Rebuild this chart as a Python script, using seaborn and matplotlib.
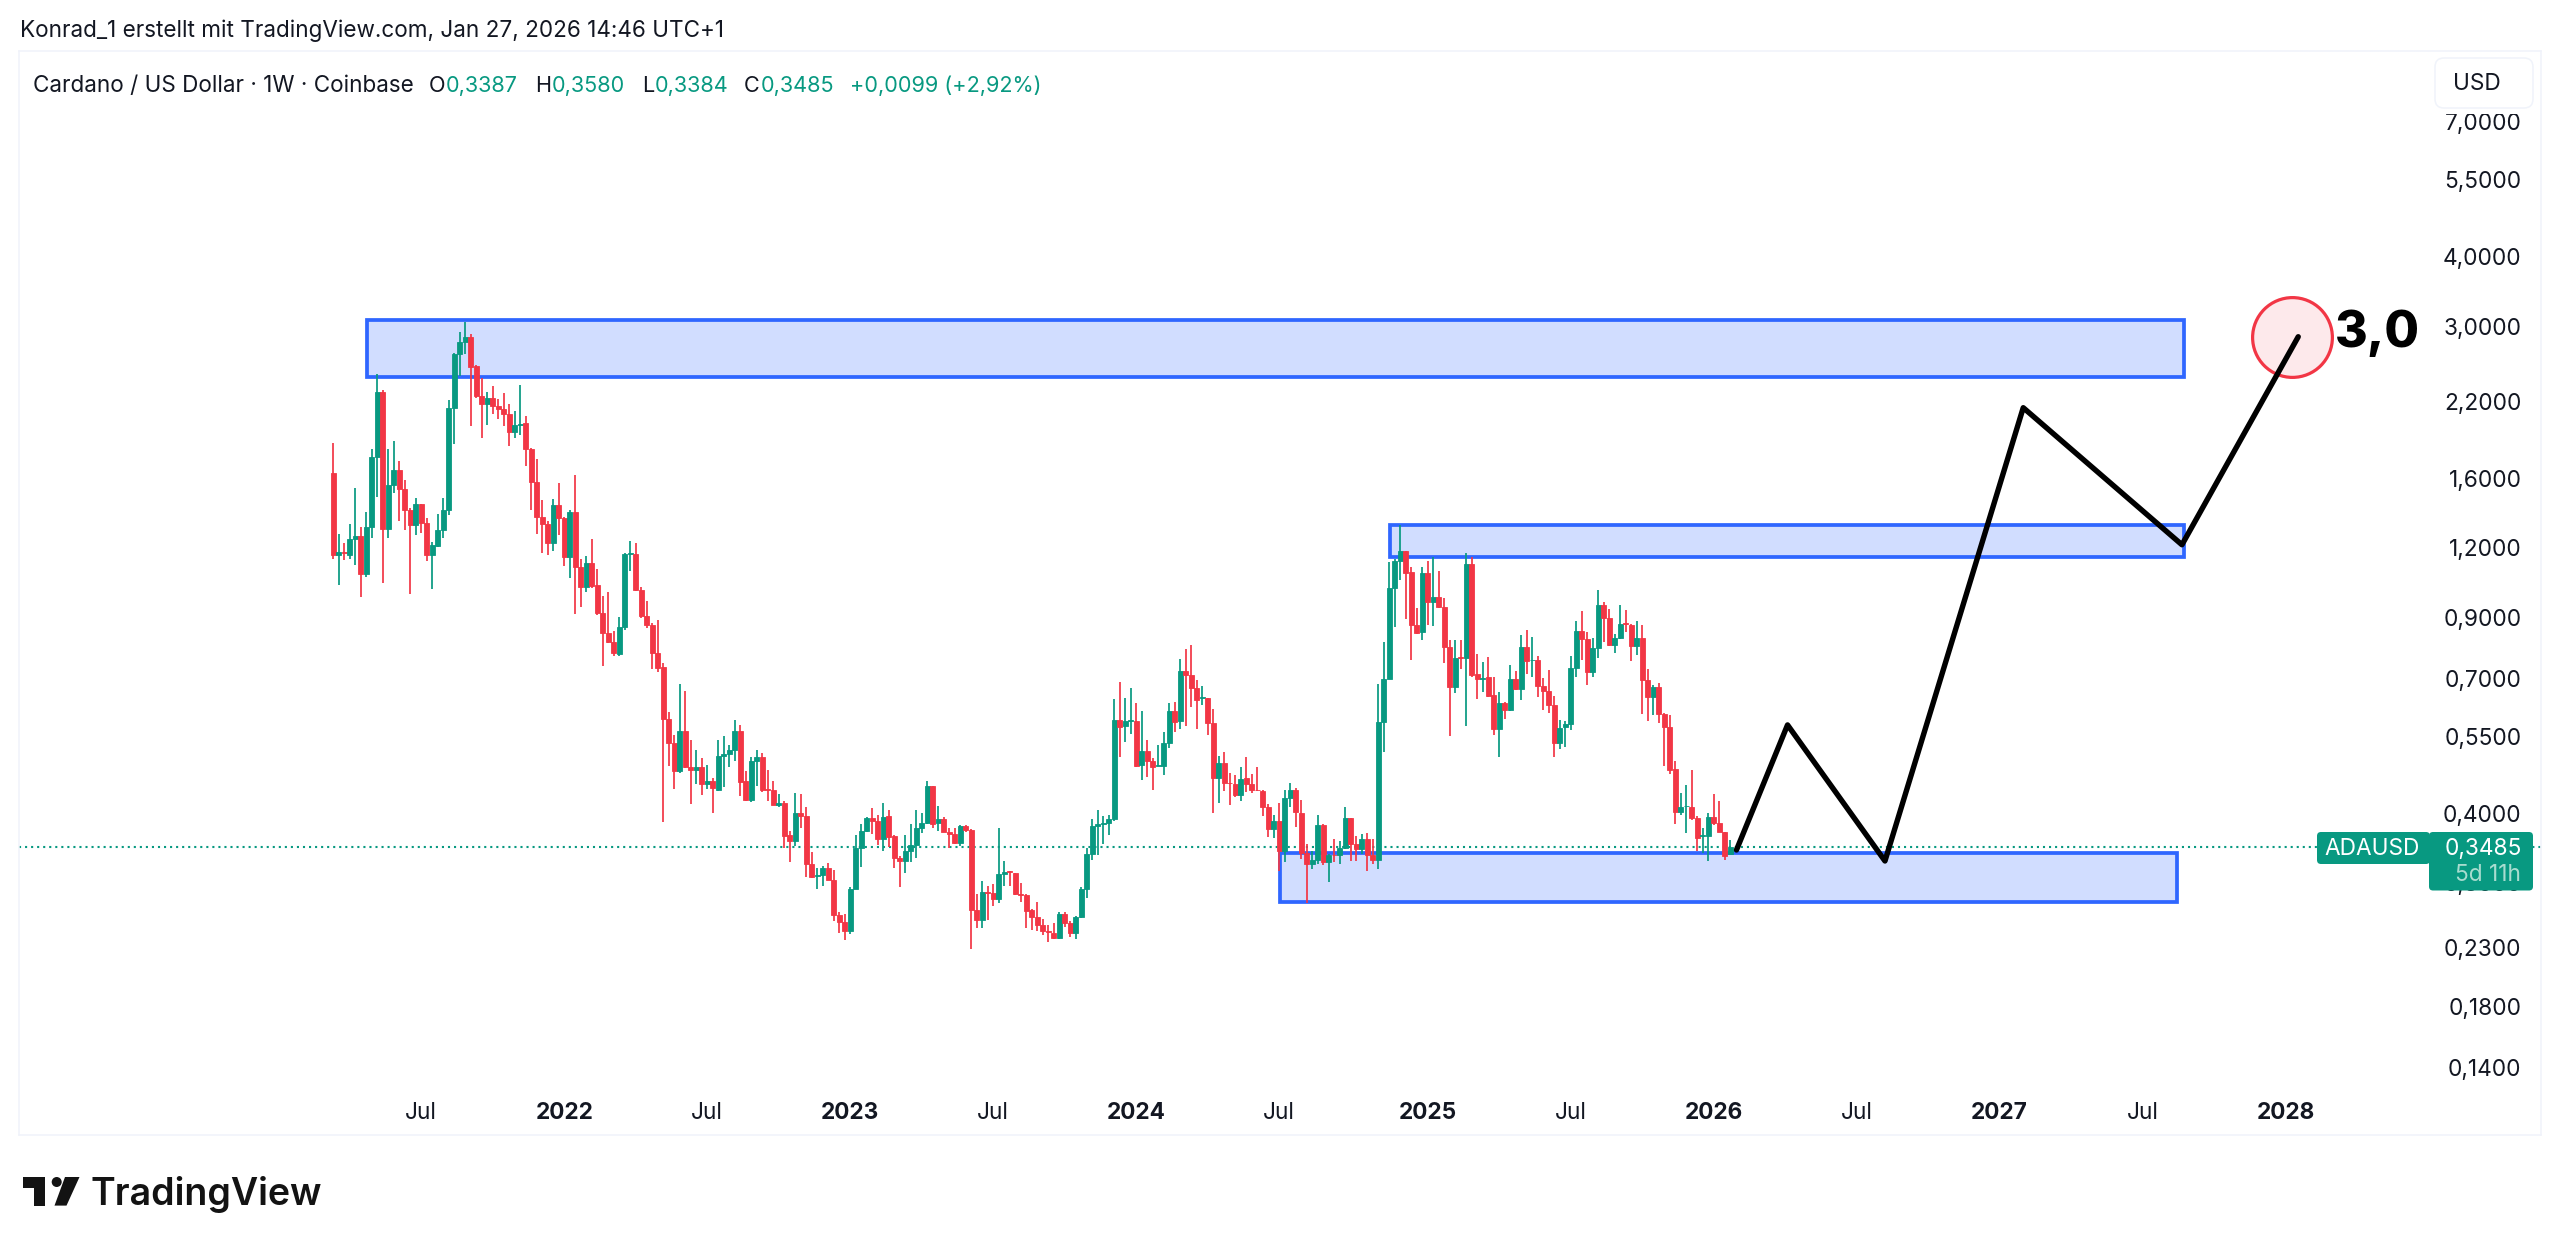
import numpy as np
import pandas as pd
import seaborn as sns
import matplotlib
matplotlib.use("Agg")
import matplotlib.pyplot as plt
import matplotlib.dates as mdates
from matplotlib.patches import Rectangle, FancyBboxPatch, Polygon, Circle
from matplotlib.ticker import NullLocator
from matplotlib.transforms import Affine2D

# weekly ADA/USD candles
first_week = "2021-03-15"
opens = [1.633,1.166,1.177,1.166,1.245,1.258,1.076,1.309,1.745,2.282,
1.299,1.558,1.652,1.533,1.405,1.320,1.440,1.330,1.163,1.207,
1.293,1.405,2.141,2.678,2.815,2.873,2.545,2.247,2.171,2.226,
2.156,2.129,2.089,1.939,1.993,2.009,1.807,1.576,1.361,1.324,
1.224,1.435,1.357,1.155,1.389,1.106,1.019,1.129,1.027,.915,
.843,.811,.772,.866,1.171,1.169,1.009,.903,.872,.775,
.732,.591,.535,.476,.562,.484,.479,.484,.452,.458,
.441,.506,.511,.520,.563,.458,.423,.496,.505,.443,
.441,.414,.418,.366,.357,.400,.396,.325,.309,.310,
.319,.304,.263,.255,.246,.293,.346,.372,.392,.388,
.359,.395,.364,.333,.329,.342,.351,.377,.384,.447,
.384,.391,.371,.367,.354,.380,.373,.268,.257,.289,
.288,.281,.311,.315,.312,.287,.285,.268,.260,.252,
.246,.244,.239,.264,.254,.244,.261,.292,.338,.379,
.382,.384,.391,.589,.574,.587,.587,.488,.518,.497,
.487,.487,.535,.611,.585,.722,.710,.672,.644,.644,
.582,.463,.492,.454,.452,.432,.463,.451,.441,.438,
.411,.375,.388,.342,.426,.441,.401,.339,.324,.330,
.381,.327,.337,.336,.347,.392,.352,.345,.359,.336,
.330,.583,.696,1.014,1.137,1.182,1.086,.873,.846,1.079,
.957,.977,.940,.795,.674,.763,.761,1.121,.712,.698,
.702,.652,.567,.631,.614,.696,.668,.797,.753,.753,
.677,.663,.626,.534,.571,.579,.730,.851,.824,.717,
.792,.948,.897,.801,.825,.878,.873,.799,.827,.693,
.647,.675,.603,.572,.480,.403,.412,.411,.392,.364,
.364,.394,.385,.370,.3387]
highs = [1.853,1.271,1.224,1.326,1.537,1.309,1.389,1.807,2.458,2.301,
1.807,1.865,1.716,1.586,1.415,1.474,1.440,1.357,1.229,1.380,
1.474,2.216,2.686,2.930,3.058,2.902,2.552,2.425,2.288,2.342,
2.223,2.272,2.177,2.112,2.352,2.066,1.814,1.735,1.464,1.343,
1.468,1.569,1.361,1.405,1.620,1.147,1.161,1.245,1.098,.981,
.999,.851,.901,1.174,1.232,1.226,1.019,.961,.878,.891,
.745,.608,.554,.682,.663,.541,.520,.503,.488,.462,
.541,.550,.531,.589,.576,.476,.504,.520,.514,.478,
.458,.433,.421,.372,.435,.433,.411,.341,.319,.322,
.326,.316,.266,.264,.295,.366,.382,.394,.409,.398,
.418,.405,.365,.335,.366,.383,.405,.400,.458,.447,
.413,.394,.376,.376,.381,.381,.375,.286,.302,.296,
.299,.376,.329,.315,.313,.300,.287,.269,.277,.258,
.252,.254,.266,.266,.256,.262,.295,.346,.390,.405,
.395,.398,.642,.689,.645,.672,.632,.611,.541,.502,
.530,.559,.632,.633,.758,.790,.804,.693,.678,.645,
.615,.507,.516,.472,.469,.485,.504,.470,.485,.441,
.415,.398,.418,.440,.453,.445,.422,.352,.342,.397,
.383,.338,.360,.357,.411,.393,.364,.367,.368,.360,
.683,.812,1.130,1.145,1.316,1.182,1.110,.937,1.106,1.137,
1.153,1.088,.975,.818,.821,.821,1.175,1.156,.772,.748,
.765,.702,.662,.634,.740,.722,.838,.853,.829,.768,
.700,.725,.651,.589,.587,.768,.885,.925,.848,.826,
1.007,.957,.931,.840,.946,.928,.877,.885,.871,.727,
.681,.686,.605,.600,.497,.435,.450,.479,.395,.377,
.400,.433,.421,.371,.3580]
lows = [1.145,1.027,1.140,1.145,1.118,.979,1.065,1.247,1.483,1.037,
1.247,1.505,1.339,1.293,.991,1.267,1.276,1.137,1.013,1.204,
1.250,1.376,1.847,2.441,2.671,1.985,2.232,1.891,1.998,2.089,
2.046,1.985,1.826,1.891,1.917,1.681,1.404,1.272,1.174,1.166,
1.186,1.263,1.112,1.058,.912,.940,.998,1.016,.909,.737,
.808,.767,.768,.854,1.091,1.005,.899,.862,.726,.717,
.386,.487,.442,.473,.483,.416,.452,.431,.442,.400,
.439,.446,.484,.497,.430,.421,.420,.448,.437,.421,
.414,.411,.346,.327,.350,.377,.307,.306,.292,.296,
.303,.256,.244,.237,.243,.292,.320,.371,.367,.351,
.342,.348,.319,.295,.313,.327,.333,.368,.382,.376,
.372,.371,.347,.352,.350,.371,.228,.249,.249,.257,
.273,.276,.296,.296,.285,.277,.249,.247,.246,.242,
.235,.238,.238,.250,.240,.238,.259,.282,.330,.336,
.352,.366,.388,.504,.538,.556,.484,.460,.465,.441,
.486,.469,.525,.561,.567,.575,.622,.566,.625,.554,
.401,.418,.439,.414,.428,.421,.436,.435,.438,.395,
.362,.361,.315,.327,.410,.378,.331,.276,.318,.325,
.323,.301,.327,.324,.345,.329,.329,.338,.315,.325,
.318,.516,.696,.865,1.050,.893,.755,.840,.820,.873,
.869,.937,.746,.551,.659,.727,.573,.702,.641,.662,
.647,.553,.505,.590,.612,.667,.638,.712,.702,.647,
.613,.607,.505,.523,.527,.565,.702,.754,.679,.702,
.759,.812,.799,.776,.824,.846,.750,.770,.603,.587,
.601,.581,.487,.470,.382,.397,.368,.389,.342,.339,
.328,.381,.370,.330,.3384]
closes = [1.166,1.177,1.172,1.245,1.258,1.076,1.309,1.745,2.282,1.299,
1.558,1.652,1.533,1.405,1.320,1.440,1.330,1.163,1.212,1.293,
1.405,2.141,2.678,2.815,2.873,2.538,2.247,2.171,2.226,2.156,
2.129,2.089,1.939,1.993,2.004,1.807,1.576,1.361,1.324,1.224,
1.435,1.357,1.155,1.389,1.106,1.019,1.129,1.023,.915,.843,
.811,.775,.866,1.171,1.174,1.009,.903,.872,.775,.729,
.591,.535,.476,.562,.484,.479,.484,.452,.458,.444,
.506,.511,.520,.563,.456,.423,.497,.505,.441,.441,
.414,.418,.364,.357,.400,.396,.325,.307,.310,.319,
.304,.263,.255,.246,.293,.346,.372,.392,.388,.359,
.394,.363,.332,.329,.342,.351,.377,.384,.447,.383,
.390,.371,.367,.354,.380,.373,.268,.257,.289,.288,
.281,.311,.314,.314,.287,.285,.267,.260,.252,.246,
.245,.239,.264,.254,.244,.261,.292,.338,.379,.382,
.384,.391,.589,.571,.587,.589,.487,.518,.496,.485,
.488,.535,.611,.583,.722,.710,.672,.638,.647,.582,
.463,.492,.454,.453,.432,.461,.451,.440,.440,.411,
.375,.388,.342,.426,.440,.403,.339,.324,.330,.381,
.327,.337,.336,.347,.392,.352,.345,.359,.336,.330,
.583,.696,1.014,1.137,1.182,1.083,.873,.844,1.079,.957,
.977,.940,.795,.674,.761,.761,1.121,.710,.696,.700,
.651,.567,.631,.614,.696,.668,.797,.750,.754,.677,
.663,.626,.534,.569,.579,.730,.851,.824,.717,.792,
.948,.897,.801,.825,.877,.875,.799,.827,.693,.647,
.674,.603,.571,.479,.403,.410,.413,.392,.361,.365,
.394,.385,.370,.335,.3485]

# drawn zones: start, end, top, bottom
zone_starts = ["2021-04-27", "2024-11-19", "2024-07-02"]
zone_ends = ["2027-08-26", "2027-08-26", "2027-08-18"]
zone_tops = [3.083, 1.320, 0.3395]
zone_bottoms = [2.435, 1.156, 0.2772]

# projected path
path_dates = ["2026-02-03", "2026-04-09", "2026-08-11", "2027-02-03", "2027-08-24", "2028-01-19"]
path_prices = [0.3437, 0.5766, 0.3284, 2.142, 1.215, 2.873]

target_date = "2028-01-11"
target_price = 2.873
last_price = 0.3485

price_ticks = [7.0, 5.5, 4.0, 3.0, 2.2, 1.6, 1.2, 0.9, 0.7, 0.55, 0.4, 0.3, 0.23, 0.18, 0.14]
date_ticks = ["2021-07-05", "2022-01-03", "2022-07-04", "2023-01-02", "2023-07-03", "2024-01-01", "2024-07-01",
              "2025-01-06", "2025-07-07", "2026-01-05", "2026-07-06", "2027-01-04", "2027-07-05", "2028-01-03"]
date_labels = ["Jul", "2022", "Jul", "2023", "Jul", "2024", "Jul", "2025", "Jul", "2026", "Jul", "2027", "Jul", "2028"]

UP = "#089981"
DOWN = "#F23645"
BLUE = "#2962FF"
INK = "#131722"
W, H = 2560, 1249

sns.set_theme(style="white")
plt.rcParams["font.family"] = ["Inter", "DejaVu Sans"]

fig = plt.figure(figsize=(W / 100, H / 100), dpi=100, facecolor="white")
px = Affine2D().scale(1, -1).translate(0, H)  # picture pixels, y going down
ax = fig.add_axes([19 / W, 1 - 1135 / H, (2541 - 19) / W, (1135 - 51) / H])

weeks = pd.date_range(first_week, periods=len(closes), freq="W-MON")
df = pd.DataFrame({"week": weeks, "o": opens, "h": highs, "l": lows, "c": closes})
df["color"] = np.where(df["c"] >= df["o"], UP, DOWN)

ax.set_yscale("log")

# zones go under the candles
for s, e, t, b in zip(zone_starts, zone_ends, zone_tops, zone_bottoms):
    x0 = mdates.date2num(pd.Timestamp(s))
    x1 = mdates.date2num(pd.Timestamp(e))
    ax.add_patch(Rectangle((x0, b), x1 - x0, t - b, facecolor=BLUE, alpha=0.21, edgecolor="none", zorder=1))
    ax.add_patch(Rectangle((x0, b), x1 - x0, t - b, facecolor="none", edgecolor="#2F66FF", lw=2.7, zorder=2))

ax.axhline(last_price, color=UP, lw=1.5, linestyle=(0, (1, 1.9)), dash_capstyle="butt", zorder=1.5)

ax.vlines(df["week"], df["l"], df["h"], colors=df["color"], lw=1.25, zorder=3)
ax.bar(df["week"], (df["c"] - df["o"]).abs(), bottom=df[["o", "c"]].min(axis=1), width=5.9,
       color=df["color"], edgecolor=df["color"], linewidth=0.6, zorder=4)

path = pd.DataFrame({"date": pd.to_datetime(path_dates), "price": path_prices})
sns.scatterplot(x=[pd.Timestamp(target_date)], y=[target_price], s=3300, color="#FDE9EB", edgecolor=DOWN,
                linewidth=2.3, ax=ax, zorder=5, legend=False)
sns.lineplot(data=path, x="date", y="price", estimator=None, sort=False, color="black", lw=3.9, ax=ax, zorder=6,
             legend=False)
ax.text(pd.Timestamp("2028-03-06"), 2.92, "3,0", fontsize=36, fontweight="heavy", color="black", ha="left",
        va="center", zorder=7)

start = pd.Timestamp(first_week)
ax.set_xlim(start - pd.Timedelta(days=400), start + pd.Timedelta(days=2810))
ax.set_ylim(0.1057, 9.37)
ax.set_xlabel("")
ax.set_ylabel("")

ax.yaxis.tick_right()
ax.set_yticks(price_ticks)
ax.set_yticklabels([f"{p:.4f}".replace(".", ",") for p in price_ticks])
ax.yaxis.set_minor_locator(NullLocator())
ax.set_xticks(pd.to_datetime(date_ticks))
ax.set_xticklabels(date_labels)
ax.tick_params(axis="y", length=0, pad=-14, labelsize=16.3, labelcolor=INK)
ax.tick_params(axis="x", length=0, pad=-16, labelsize=16.3, labelcolor=INK)
for lab in ax.get_yticklabels():
    lab.set_ha("right")
for lab in ax.get_xticklabels():
    lab.set_va("center")
    if lab.get_text() != "Jul":
        lab.set_fontweight("bold")
ax.grid(False)
for sp in ax.spines.values():
    sp.set_color("#F0F3FA")
    sp.set_linewidth(1.1)

# header lines
fig.text(20, 31, "Konrad_1 erstellt mit TradingView.com, Jan 27, 2026 14:46 UTC+1", transform=px, fontsize=16.2,
         color=INK, va="center")
fig.text(33, 86, "Cardano / US Dollar · 1W · Coinbase", transform=px, fontsize=16.2, color=INK, va="center")
ohlc_bits = [(429, "O", INK), (446, "0,3387", UP), (535, "H", INK), (552, "0,3580", UP), (642, "L", INK),
             (655, "0,3384", UP), (744, "C", INK), (761, "0,3485", UP), (850, "+0,0099 (+2,92%)", UP)]
for x, s, c in ohlc_bits:
    fig.text(x, 86, s, transform=px, fontsize=15.6, color=c, va="center")

# USD button
fig.add_artist(Rectangle((2434, 56), 104, 58, transform=px, facecolor="white", edgecolor="none", zorder=1))
fig.add_artist(FancyBboxPatch((2441, 64), 86, 38, boxstyle="round,pad=6,rounding_size=9", transform=px,
                              facecolor="white", edgecolor="#F0F3FA", lw=1.1, zorder=1.1))
fig.text(2453, 84, "USD", transform=px, fontsize=16.3, color=INK, va="center")

# last price tags
fig.add_artist(FancyBboxPatch((2320, 835), 107, 26, boxstyle="round,pad=3,rounding_size=4", transform=px,
                              facecolor=UP, edgecolor="none", zorder=1))
fig.add_artist(FancyBboxPatch((2432, 835), 98, 52.5, boxstyle="round,pad=3,rounding_size=4", transform=px,
                              facecolor=UP, edgecolor="none", zorder=1))
fig.text(2372, 849, "ADAUSD", transform=px, fontsize=16.3, color="white", ha="center", va="center")
fig.text(2522, 849, "0,3485", transform=px, fontsize=16.3, color="white", ha="right", va="center")
fig.text(2521, 875, "5d 11h", transform=px, fontsize=16.3, color="#A8DCCF", ha="right", va="center")

# logo
LOGO = "#131313"
fig.add_artist(Polygon([(22.7, 1177), (45, 1177), (45, 1205.6), (34, 1205.6), (34, 1187.5), (22.7, 1187.5)],
                       closed=True, transform=px, facecolor=LOGO, edgecolor="none"))
fig.add_artist(Circle((56.7, 1182), 5, transform=px, facecolor=LOGO, edgecolor="none"))
fig.add_artist(Polygon([(65, 1177), (79.5, 1177), (66.5, 1205.6), (54.5, 1205.6)], closed=True, transform=px,
                       facecolor=LOGO, edgecolor="none"))
fig.text(91, 1205, "TradingView", transform=px, fontsize=27, fontweight="semibold", color=LOGO, va="baseline")

fig.savefig("out.png", dpi=100, facecolor="white")
